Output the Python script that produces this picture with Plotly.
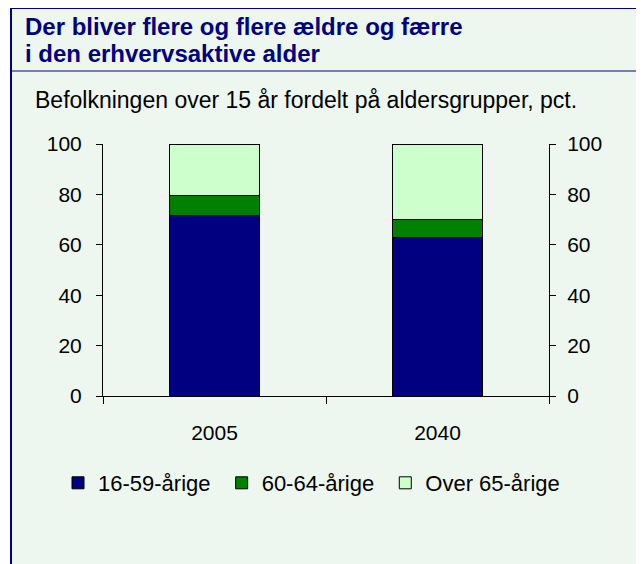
import plotly.graph_objects as go

# data
years = ["2005", "2040"]
age_16_59 = [71.7, 63.0]
age_60_64 = [7.8, 7.1]
age_65_plus = [20.5, 29.9]
y_ticks = [0, 20, 40, 60, 80, 100]

# the page body adds an 8px margin, so the figure is 8px smaller each way
W, H = 636, 556
OFF = 8
FONT = "Liberation Sans, Arial, sans-serif"
NAVY = "#000080"
PANEL = "#EEF7EF"


def px(x):
    return (x - OFF) / W


def py(y):
    return (H - (y - OFF)) / H


fig = go.Figure()
fig.add_trace(go.Bar(x=years, y=age_16_59, name="16-59-årige\u00a0",
                     marker=dict(color="#000080", line=dict(color="black", width=1))))
fig.add_trace(go.Bar(x=years, y=age_60_64, name="60-64-årige\u00a0",
                     marker=dict(color="#008000", line=dict(color="black", width=1))))
fig.add_trace(go.Bar(x=years, y=age_65_plus, name="Over 65-årige",
                     marker=dict(color="#CCFFCC", line=dict(color="black", width=1))))
# right axis carries a copy of the scale
fig.add_trace(go.Bar(x=years, y=[None, None], yaxis="y2", showlegend=False,
                     hoverinfo="skip"))

axis_y = dict(range=[0, 100], tickvals=y_ticks, ticks="outside", ticklen=6,
              tickcolor="black", showline=True, linecolor="black", linewidth=1,
              showgrid=False, zeroline=False, tickfont=dict(size=21, color="black"),
              domain=[py(396), py(144)], ticklabelstandoff=10, automargin=False)

fig.update_layout(
    width=W, height=H, autosize=False,
    margin=dict(l=0, r=0, t=0, b=0, pad=0),
    paper_bgcolor="white", plot_bgcolor="rgba(0,0,0,0)",
    font=dict(family=FONT, color="black"),
    barmode="stack", bargap=0.6,
    xaxis=dict(domain=[px(103), px(549)], type="category", tickson="boundaries",
               range=[-0.5, 1.5], ticks="outside", ticklen=7, tickcolor="black",
               showline=True, linecolor="black", linewidth=1, showgrid=False,
               tickfont=dict(size=21, color="black"), ticklabelstandoff=18,
               automargin=False),
    yaxis=axis_y,
    yaxis2=dict(axis_y, overlaying="y", side="right", anchor="x", ticklabelstandoff=7),
    legend=dict(orientation="h", x=px(58), y=py(483), xanchor="left", yanchor="middle",
                font=dict(size=22, color="black"), bgcolor="rgba(0,0,0,0)",
                traceorder="normal"),
    showlegend=True,
)

# panel, borders
fig.add_shape(type="rect", xref="paper", yref="paper", x0=px(11), x1=1, y0=0, y1=py(8),
              fillcolor=PANEL, line=dict(width=0), layer="below")
fig.add_shape(type="line", xref="paper", yref="paper", x0=px(11), x1=px(11), y0=0, y1=py(8),
              line=dict(color=NAVY, width=2))
fig.add_shape(type="line", xref="paper", yref="paper", x0=px(11), x1=1, y0=py(8.5), y1=py(8.5),
              line=dict(color=NAVY, width=1))
fig.add_shape(type="line", xref="paper", yref="paper", x0=px(11), x1=1, y0=py(71), y1=py(71),
              line=dict(color=NAVY, width=1))

# titles
fig.add_annotation(xref="paper", yref="paper", x=px(24), y=py(26), xanchor="left",
                   yanchor="middle", showarrow=False, borderpad=0,
                   text="<b>Der bliver flere og flere ældre og færre</b>",
                   font=dict(size=24, color=NAVY))
fig.add_annotation(xref="paper", yref="paper", x=px(24), y=py(53), xanchor="left",
                   yanchor="middle", showarrow=False, borderpad=0,
                   text="<b>i den erhvervsaktive alder</b>",
                   font=dict(size=24, color=NAVY))
fig.add_annotation(xref="paper", yref="paper", x=px(33), y=py(100), xanchor="left",
                   yanchor="middle", showarrow=False,
                   text="Befolkningen over 15 år fordelt på aldersgrupper, pct.",
                   font=dict(size=23, color="black"))

fig.write_html("out.html")
